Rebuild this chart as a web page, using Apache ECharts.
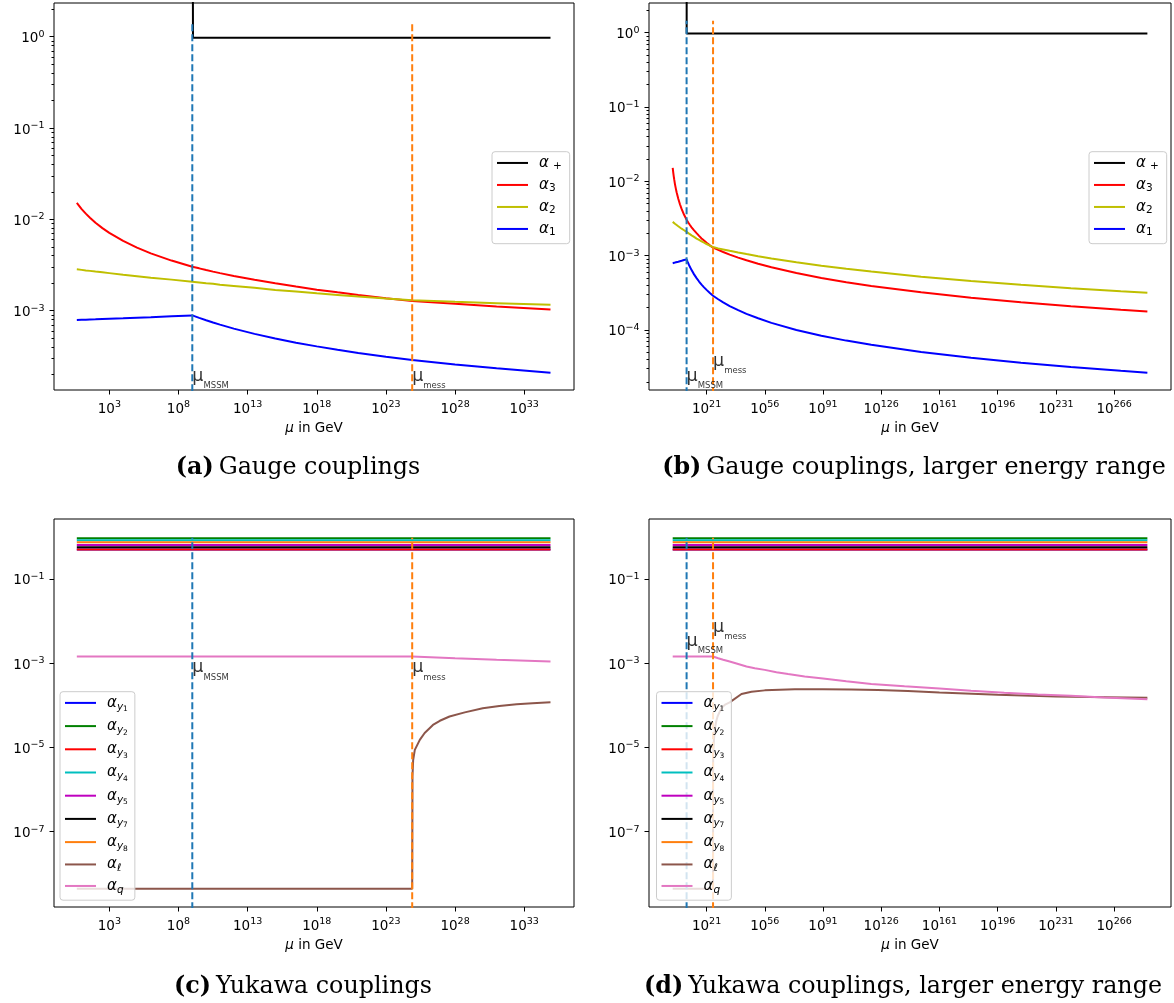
<!DOCTYPE html>
<html><head><meta charset="utf-8">
<script src="https://cdn.jsdelivr.net/npm/echarts@6/dist/echarts.min.js"></script>
<style>html,body{margin:0;padding:0;background:#fff}#c{width:1174px;height:1003px}</style>
</head><body><div id="c"></div><script>
// ---------------- data (x = log10(mu / GeV), y = coupling value) ----------------
const muGauge = [0.65, 1.0, 1.3, 1.6, 2, 2.5, 3, 4, 5, 6, 7.5, 9, 9.5, 10, 10.5, 11, 12, 13.5, 15, 16.5, 18, 19.5, 21, 23, 24.9, 28, 31, 34.9, 40, 45, 52, 60, 75, 90, 105, 120, 150, 180, 210, 240, 270, 286];
const alpha3 = [0.0152, 0.01297, 0.01156, 0.01042, 0.00917, 0.00803, 0.00712, 0.00581, 0.00491, 0.00425, 0.00354, 0.00303, 0.00291, 0.00279, 0.00268, 0.00258, 0.00240, 0.00218, 0.00200, 0.00184, 0.00170, 0.00159, 0.00149, 0.00137, 0.00128, 0.00119, 0.001115, 0.00103, 9.39e-4, 8.63e-4, 7.75e-4, 6.95e-4, 5.81e-4, 5.0e-4, 4.38e-4, 3.9e-4, 3.2e-4, 2.71e-4, 2.36e-4, 2.08e-4, 1.86e-4, 1.76e-4];
const alpha2 = [0.00284, 0.00280, 0.00276, 0.00273, 0.00268, 0.00263, 0.00258, 0.00248, 0.00239, 0.00230, 0.00219, 0.00208, 0.00204, 0.00200, 0.00197, 0.00193, 0.00187, 0.00178, 0.00169, 0.00162, 0.00155, 0.00149, 0.00143, 0.00136, 0.00130, 0.00125, 0.00121, 0.00116, 0.00110, 1.047e-3, 9.81e-4, 9.15e-4, 8.12e-4, 7.3e-4, 6.64e-4, 6.08e-4, 5.2e-4, 4.55e-4, 4.04e-4, 3.64e-4, 3.31e-4, 3.15e-4];
const alpha1 = [7.9e-4, 7.94e-4, 7.97e-4, 8.0e-4, 8.04e-4, 8.1e-4, 8.16e-4, 8.26e-4, 8.39e-4, 8.5e-4, 8.7e-4, 8.89e-4, 8.34e-4, 7.86e-4, 7.42e-4, 7.04e-4, 6.37e-4, 5.58e-4, 4.97e-4, 4.47e-4, 4.07e-4, 3.73e-4, 3.45e-4, 3.13e-4, 2.88e-4, 2.58e-4, 2.34e-4, 2.09e-4, 1.84e-4, 1.64e-4, 1.43e-4, 1.24e-4, 9.97e-5, 8.34e-5, 7.16e-5, 6.28e-5, 5.04e-5, 4.2e-5, 3.61e-5, 3.16e-5, 2.81e-5, 2.65e-5];
const muPlus = [9.0, 9.05, 34.9, 286];
const alphaPlus = [1000, 0.975, 0.975, 0.975];

const muFlat = [0.65, 34.9, 286];
const alphaY1 = [0.50, 0.50, 0.50];
const alphaY2 = [0.914, 0.914, 0.914];
const alphaY3 = [0.50, 0.50, 0.50];
const alphaY4 = [0.82, 0.82, 0.82];
const alphaY5 = [0.634, 0.634, 0.634];
const alphaY7 = [0.56, 0.56, 0.56];
const alphaY8 = [0.735, 0.735, 0.735];
const muEll = [0.65, 24.9, 24.92, 24.97, 25.09, 25.45, 25.8, 26.4, 26.9, 27.6, 28.7, 30.0, 31.2, 32.45, 33.6, 34.9, 42, 48, 56, 65, 74, 91, 108, 124, 142, 161, 196, 231, 261, 286];
const alphaEll = [4.4e-9, 4.4e-9, 2.0e-6, 5.0e-6, 8.7e-6, 1.5e-5, 2.19e-5, 3.4e-5, 4.27e-5, 5.4e-5, 6.76e-5, 8.5e-5, 9.55e-5, 1.05e-4, 1.11e-4, 1.17e-4, 1.85e-4, 2.08e-4, 2.25e-4, 2.33e-4, 2.38e-4, 2.4e-4, 2.37e-4, 2.3e-4, 2.16e-4, 2.0e-4, 1.76e-4, 1.62e-4, 1.55e-4, 1.5e-4];
const muQ = [0.65, 24.9, 28, 31, 34.9, 40, 45, 50, 56, 63, 70, 80, 91, 105, 120, 140, 161, 180, 200, 220, 240, 260, 286];
const alphaQ = [1.43e-3, 1.43e-3, 1.30e-3, 1.20e-3, 1.09e-3, 9.5e-4, 8.3e-4, 7.55e-4, 6.9e-4, 6.06e-4, 5.5e-4, 4.83e-4, 4.3e-4, 3.71e-4, 3.2e-4, 2.8e-4, 2.5e-4, 2.19e-4, 1.97e-4, 1.8e-4, 1.68e-4, 1.53e-4, 1.39e-4];

const muMSSM = 9.0;
const muMess = 24.9;
const xTicksNarrow = [3, 8, 13, 18, 23, 28, 33];
const xTicksWide = [21, 56, 91, 126, 161, 196, 231, 266];
const yTicksA = [-3, -2, -1, 0];
const yTicksB = [-4, -3, -2, -1, 0];
const yTicksYuk = [-7, -5, -3, -1];
const gaugeNames = ['α+', 'α3', 'α2', 'α1'];
const yukawaNames = ['αy1', 'αy2', 'αy3', 'αy4', 'αy5', 'αy7', 'αy8', 'αℓ', 'αq'];

// ---------------- styling / layout ----------------
const FONT = 'DejaVu Sans';
const SERIF = 'DejaVu Serif';
const C = {k:'#000000', r:'#ff0000', y:'#bfbf00', b:'#0000ff', g:'#008000', c:'#00bfbf', m:'#bf00bf',
           tabBlue:'#1f77b4', tabOrange:'#ff7f0e', brown:'#8c564b', pink:'#e377c2'};

const panels = [
  {grid:[54,3,520,387], xr:[-1.0,36.6], yr:[-3.868,0.369], xmax:34.9, xt:xTicksNarrow, yt:yTicksA, minor:true, kind:'gauge',
   vTop:1.45, leg:{left:492, top:151.7, pad:[2.5,8,6,5], gap:4.5}, lab:{mssm:-3.726, mess:-3.726},
   cap:['(a)','Gauge couplings'], capPos:[298,456]},
  {grid:[649,3,522,387], xr:[-13.6,300.2], yr:[-4.81,0.40], xmax:286, xt:xTicksWide, yt:yTicksB, minor:true, kind:'gauge',
   vTop:1.45, leg:{left:1089, top:151.7, pad:[2.5,8,6,5], gap:4.5}, lab:{mssm:-4.636, mess:-4.434},
   cap:['(b)','Gauge couplings, larger energy range'], capPos:[914,456]},
  {grid:[54,519,520,388], xr:[-1.0,36.6], yr:[-8.79,0.42], xmax:34.9, xt:xTicksNarrow, yt:yTicksYuk, minor:false, kind:'yukawa',
   vTop:0.95, leg:{left:60, top:691.7, pad:[0.6,7,4.5,5], gap:2.0}, lab:{mssm:-3.126, mess:-3.126},
   cap:['(c)','Yukawa couplings'], capPos:[303,975]},
  {grid:[649,519,522,388], xr:[-13.6,300.2], yr:[-8.79,0.42], xmax:286, xt:xTicksWide, yt:yTicksYuk, minor:false, kind:'yukawa',
   vTop:0.95, leg:{left:656.5, top:691.7, pad:[0.6,7,4.5,5], gap:2.0}, lab:{mssm:-2.501, mess:-2.169},
   cap:['(d)','Yukawa couplings, larger energy range'], capPos:[903,975]}
];

function sup(v){ return '{b|10}{e|' + (v < 0 ? '\u2212' + (-v) : v) + '}'; }
const tickRich = {
  b:{fontFamily:FONT, fontSize:13.5, lineHeight:18, verticalAlign:'bottom', color:'#000'},
  e:{fontFamily:FONT, fontSize:9.5, lineHeight:10, padding:[1.5,0,0,0], verticalAlign:'top', color:'#000'}
};
const nameRich = {
  i:{fontFamily:FONT, fontStyle:'italic', fontSize:13.5, lineHeight:16, color:'#000'},
  r:{fontFamily:FONT, fontSize:13.5, lineHeight:16, color:'#000'}
};
// tokens centred in the line; top padding lowers the subscripts
const legRich = {
  sp:{width:6, fontSize:10, lineHeight:21},
  a:{fontFamily:FONT, fontStyle:'italic', fontSize:15, lineHeight:21, color:'#000'},
  s:{fontFamily:FONT, fontSize:10.5, lineHeight:10, padding:[6.5,0,0,0], color:'#000'},
  sp2:{fontFamily:FONT, fontSize:10.5, lineHeight:10, padding:[6.5,0,0,4], color:'#000'},
  si:{fontFamily:FONT, fontStyle:'italic', fontSize:10.5, lineHeight:10, padding:[8.5,0,0,0], color:'#000'},
  ss:{fontFamily:FONT, fontSize:7.5, lineHeight:7, padding:[13.2,0,0,0], color:'#000'}
};
const legFmt = {
  'α+':'{sp| }{a|α}{sp2|+}', 'α3':'{sp| }{a|α}{s|3}', 'α2':'{sp| }{a|α}{s|2}', 'α1':'{sp| }{a|α}{s|1}',
  'αy1':'{sp| }{a|α}{si|y}{ss|1}', 'αy2':'{sp| }{a|α}{si|y}{ss|2}', 'αy3':'{sp| }{a|α}{si|y}{ss|3}',
  'αy4':'{sp| }{a|α}{si|y}{ss|4}', 'αy5':'{sp| }{a|α}{si|y}{ss|5}', 'αy7':'{sp| }{a|α}{si|y}{ss|7}',
  'αy8':'{sp| }{a|α}{si|y}{ss|8}', 'αℓ':'{sp| }{a|α}{si|ℓ}', 'αq':'{sp| }{a|α}{si|q}'
};
const muRich = {
  m:{fontFamily:FONT, fontSize:17.5, lineHeight:20, verticalAlign:'top', color:'#000'},
  s:{fontFamily:FONT, fontSize:8.5, lineHeight:9, padding:[14.6,0,0,0], verticalAlign:'top', color:'#000'}
};

function pts(xs, ys, xmax){
  const out = [];
  xs.forEach((x, i) => { if (x <= xmax + 1e-9) out.push([x, Math.log10(ys[i])]); });
  return out;
}

const grids = [], xAxes = [], yAxes = [], series = [], legends = [], titles = [];
panels.forEach((p, gi) => {
  grids.push({left:p.grid[0], top:p.grid[1], width:p.grid[2], height:p.grid[3], show:true,
              borderColor:'#000', borderWidth:1, backgroundColor:'transparent', containLabel:false, outerBoundsMode:'none'});
  xAxes.push({type:'value', gridIndex:gi, position:'bottom', min:p.xr[0], max:p.xr[1],
    axisLine:{show:false, onZero:false}, splitLine:{show:false},
    axisTick:{show:true, customValues:p.xt, length:4.5, lineStyle:{color:'#000', width:1}},
    axisLabel:{show:true, customValues:p.xt, formatter:v => sup(v), margin:8, rich:tickRich},
    name:'{i|μ}{r| in GeV}', nameLocation:'middle', nameGap:30.5, nameTextStyle:{rich:nameRich}});
  const minorVals = [];
  if (p.minor) {
    for (let n = Math.floor(p.yr[0]); n <= Math.ceil(p.yr[1]); n++)
      for (let k = 2; k <= 9; k++) { const v = n + Math.log10(k); if (v > p.yr[0] && v < p.yr[1]) minorVals.push(v); }
  }
  yAxes.push({type:'value', gridIndex:gi, position:'left', min:p.yr[0], max:p.yr[1],
    axisLine:{show:false, onZero:false}, splitLine:{show:false},
    axisTick:{show:true, customValues:p.yt, length:4.5, lineStyle:{color:'#000', width:1}},
    axisLabel:{show:true, customValues:p.yt, formatter:v => sup(v), margin:9.5, rich:tickRich}});
  yAxes.push({type:'value', gridIndex:gi, position:'left', offset:0, min:p.yr[0], max:p.yr[1],
    axisLine:{show:false, onZero:false}, splitLine:{show:false},
    axisTick:{show:p.minor, customValues:minorVals.length ? minorVals : [p.yr[0]], length:2.5, lineStyle:{color:'#000', width:1}},
    axisLabel:{show:false}});

  const xi = gi, yi = 2 * gi;
  const line = (name, color, xs, ys) => series.push({type:'line', name, xAxisIndex:xi, yAxisIndex:yi,
    data:pts(xs, ys, p.xmax), showSymbol:false, symbol:'none', smooth:false, animation:false,
    lineStyle:{color, width:2}, itemStyle:{color}, emphasis:{disabled:true}, z:2});

  if (p.kind === 'gauge') {
    line('α+', C.k, muPlus, alphaPlus);
    line('α3', C.r, muGauge, alpha3);
    line('α2', C.y, muGauge, alpha2);
    line('α1', C.b, muGauge, alpha1);
  } else {
    line('αy1', C.b, muFlat, alphaY1);
    line('αy2', C.g, muFlat, alphaY2);
    line('αy3', C.r, muFlat, alphaY3);
    line('αy4', C.c, muFlat, alphaY4);
    line('αy5', C.m, muFlat, alphaY5);
    line('αy7', C.k, muFlat, alphaY7);
    line('αy8', C.tabOrange, muFlat, alphaY8);
    line('αℓ', C.brown, muEll, alphaEll);
    line('αq', C.pink, muQ, alphaQ);
  }
  // threshold markers
  [[muMSSM, C.tabBlue], [muMess, C.tabOrange]].forEach(([m, col]) => {
    series.push({type:'line', xAxisIndex:xi, yAxisIndex:yi, data:[[m, p.yr[0] - 1], [m, Math.log10(p.vTop)]],
      showSymbol:false, symbol:'none', animation:false, lineStyle:{color:col, width:2, type:[7, 3]},
      emphasis:{disabled:true}, z:3});
  });
  [[muMSSM, p.lab.mssm, 'MSSM'], [muMess, p.lab.mess, 'mess']].forEach(([m, y, sub]) => {
    series.push({type:'scatter', xAxisIndex:xi, yAxisIndex:yi, data:[[m, y]], symbolSize:0, silent:true, animation:false, z:5,
      label:{show:true, position:'right', distance:0, formatter:'{m|μ}{s|' + sub + '}', rich:muRich}});
  });

  legends.push({orient:'vertical', left:p.leg.left, top:p.leg.top, padding:p.leg.pad, itemGap:p.leg.gap,
    data:(p.kind === 'gauge' ? gaugeNames : yukawaNames), icon:'rect', itemWidth:31, itemHeight:2,
    backgroundColor:'rgba(255,255,255,0.8)', borderColor:'#cccccc', borderWidth:1, borderRadius:3,
    selectedMode:false, formatter:n => legFmt[n], textStyle:{rich:legRich}});

  titles.push({text:'{b|' + p.cap[0] + '} {r|' + p.cap[1] + '}', left:p.capPos[0], top:p.capPos[1], textAlign:'center', padding:0,
    textStyle:{fontWeight:'normal', rich:{b:{fontFamily:SERIF, fontWeight:'bold', fontSize:23.8, color:'#000'},
                     r:{fontFamily:SERIF, fontWeight:'normal', fontSize:23.8, color:'#000'}}}});
});

const chart = echarts.init(document.getElementById('c'), null, {renderer:'canvas'});
chart.setOption({animation:false, backgroundColor:'#fff', grid:grids, xAxis:xAxes, yAxis:yAxes,
  series, legend:legends, title:titles});
</script></body></html>
